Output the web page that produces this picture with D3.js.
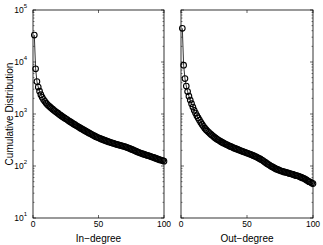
<!DOCTYPE html>
<html><head><meta charset="utf-8">
<script src="https://cdn.jsdelivr.net/npm/d3@7"></script>
<style>body{margin:0;background:#fff}svg{display:block}text{font-family:"Liberation Sans",Arial,sans-serif;fill:#000}</style>
</head><body><svg id="c" width="323" height="245"></svg>
<script>
const degrees = d3.range(1, 101);
const inDegree = [33000,7400,4200,3300,2750,2350,2100,1900,1750,1620,
1520,1440,1370,1300,1240,1180,1130,1080,1035,990,
950,910,875,840,810,780,750,720,695,670,
645,622,600,580,560,540,522,505,488,472,
457,442,428,415,402,390,378,367,357,348,
340,332,324,317,310,303,297,291,285,280,
275,270,265,260,256,252,248,244,240,236,
231,226,221,216,211,206,201,196,191,186,
182,178,174,171,167,164,161,158,155,152,
149,146,143,140,137,134,131,129,127,124];
const outDegree = [44500,8700,4800,3450,2700,2200,1850,1580,1360,1180,
1040,930,840,760,690,630,580,535,500,470,
445,420,400,380,362,346,332,320,308,297,
287,278,270,262,255,248,241,235,229,223,
218,213,208,203,198,194,190,186,182,178,
174,170,166,162,158,154,150,145,141,137,
132,127,122,117,112,108,104,100,97,94,
91,88,86,84,82,80,79,77,76,75,
74,72,71,70,69,67,66,65,64,62,
61,59,58,56,54,52,50,49,47,46];
const xTicks = [0, 50, 100];
const yTicks = [10, 100, 1000, 10000, 100000];
const xLabels = ["In\u2212degree", "Out\u2212degree"];
const yLabel = "Cumulative Distribution";

const svg = d3.select("#c");
const plotTop = 10, plotBottom = 218;
const y = d3.scaleLog().domain([10, 1e5]).range([plotBottom, plotTop]);
const minorTicks = [];
for (let e = 1; e < 5; e++) for (let m = 2; m <= 9; m++) minorTicks.push(m * Math.pow(10, e));

const panels = [
  {x0: 33, x1: 164, data: inDegree, label: xLabels[0], ylab: true},
  {x0: 181, x1: 313, data: outDegree, label: xLabels[1], ylab: false}
];

panels.forEach(p => {
  const x = d3.scaleLinear().domain([0, 100]).range([p.x0, p.x1]);
  const g = svg.append("g");
  g.append("rect").attr("x", p.x0).attr("y", plotTop).attr("width", p.x1 - p.x0).attr("height", plotBottom - plotTop)
    .attr("fill", "none").attr("stroke", "#000").attr("stroke-width", 0.8);
  xTicks.forEach(t => {
    const xx = x(t);
    g.append("line").attr("x1", xx).attr("x2", xx).attr("y1", plotBottom).attr("y2", plotBottom - 3).attr("stroke", "#000").attr("stroke-width", 0.6);
    g.append("line").attr("x1", xx).attr("x2", xx).attr("y1", plotTop).attr("y2", plotTop + 3).attr("stroke", "#000").attr("stroke-width", 0.6);
    g.append("text").attr("x", xx).attr("y", 227).attr("text-anchor", "middle").attr("font-size", 8.5).text(t);
  });
  yTicks.forEach(t => {
    const yy = y(t);
    g.append("line").attr("x1", p.x0).attr("x2", p.x0 + 3).attr("y1", yy).attr("y2", yy).attr("stroke", "#000").attr("stroke-width", 0.6);
    g.append("line").attr("x1", p.x1).attr("x2", p.x1 - 3).attr("y1", yy).attr("y2", yy).attr("stroke", "#000").attr("stroke-width", 0.6);
    if (p.ylab) {
      const tx = g.append("text").attr("x", p.x0 - 6).attr("y", yy + 3).attr("text-anchor", "end").attr("font-size", 8.5);
      tx.append("tspan").text("10");
      tx.append("tspan").attr("dy", -5).attr("font-size", 6).text(Math.round(Math.log10(t)));
    }
  });
  minorTicks.forEach(t => {
    const yy = y(t);
    g.append("line").attr("x1", p.x0).attr("x2", p.x0 + 1.5).attr("y1", yy).attr("y2", yy).attr("stroke", "#000").attr("stroke-width", 0.5);
    g.append("line").attr("x1", p.x1).attr("x2", p.x1 - 1.5).attr("y1", yy).attr("y2", yy).attr("stroke", "#000").attr("stroke-width", 0.5);
  });
  const line = d3.line().x((d, i) => x(degrees[i])).y(d => y(d));
  g.append("path").datum(p.data).attr("d", line).attr("fill", "none").attr("stroke", "#000").attr("stroke-width", 0.8);
  g.selectAll("circle.m").data(p.data).join("circle").attr("class", "m")
    .attr("cx", (d, i) => x(degrees[i])).attr("cy", d => y(d)).attr("r", 2.8)
    .attr("fill", "none").attr("stroke", "#000").attr("stroke-width", 1.1);
  g.append("text").attr("x", (p.x0 + p.x1) / 2).attr("y", 242).attr("text-anchor", "middle").attr("font-size", 10).text(p.label);
});

svg.append("text").attr("transform", `translate(13,${(plotTop + plotBottom) / 2}) rotate(-90)`)
  .attr("text-anchor", "middle").attr("font-size", 10).text(yLabel);
</script></body></html>
